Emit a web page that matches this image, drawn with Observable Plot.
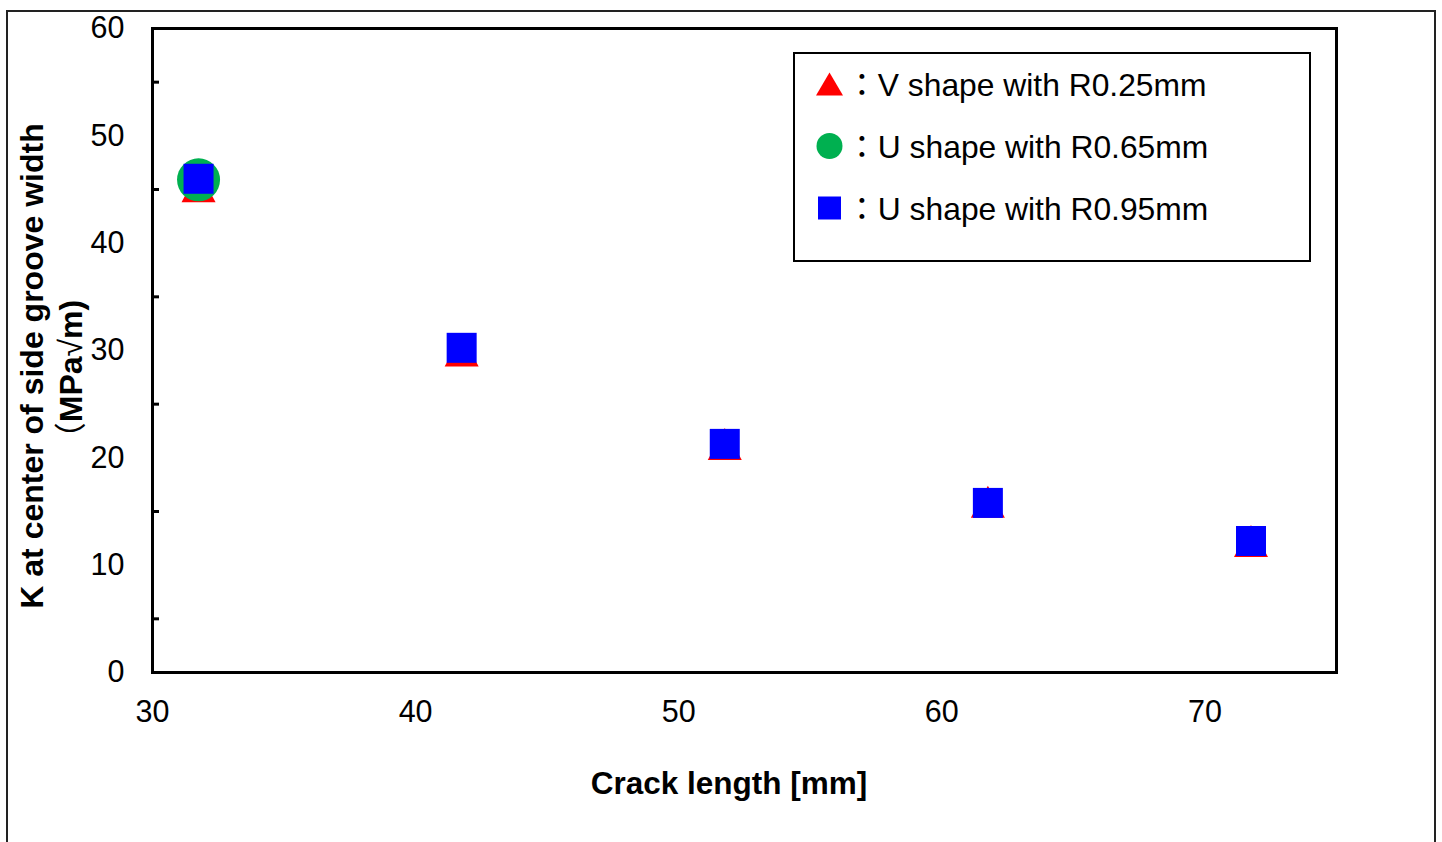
<!DOCTYPE html>
<html>
<head>
<meta charset="utf-8">
<script src="https://cdn.jsdelivr.net/npm/d3@7"></script>
<script src="https://cdn.jsdelivr.net/npm/@observablehq/plot@0.6"></script>
<style>
  html, body { margin: 0; padding: 0; background: #fff; overflow: hidden; }
  #wrap { position: relative; width: 1442px; height: 842px; }
  #sheet { position: absolute; left: 6px; top: 10px; width: 1426px; height: 900px; border: 2px solid #222; box-sizing: content-box; }
  #chart { position: absolute; left: 0; top: 0; }
</style>
</head>
<body>
<div id="wrap">
  <div id="sheet"></div>
  <div id="chart"></div>
</div>
<script>
// Crack length of each analysed specimen [mm]
const crackLength = [31.75, 41.75, 51.75, 61.75, 71.75];
// Stress intensity factor K at the centre of the side groove width [MPa√m]
const vShapeR025 = [45.3, 30.0, 21.3, 15.9, 12.25];
const uShapeR065Length = [31.75];
const uShapeR065 = [45.9];
const uShapeR095 = [46.0, 30.25, 21.3, 15.8, 12.25];

const seriesNames = ["V shape with R0.25mm", "U shape with R0.65mm", "U shape with R0.95mm"];
const seriesColors = ["#FF0000", "#00B050", "#0000FF"];

const xTicks = [30, 40, 50, 60, 70];
const yTicks = [0, 10, 20, 30, 40, 50, 60];
const yMinorTicks = [5, 15, 25, 35, 45, 55];

const xTitle = "Crack length [mm]";
const yTitle = "K at center of side groove width";

const FONT = "'Liberation Sans', Arial, Helvetica, sans-serif";
const CJK = "'Noto Sans CJK JP', 'Noto Sans CJK SC', sans-serif";

// Upward triangle whose bounding box is centred on the point
function boxTriangle(aspect) {
  return {
    draw(context, size) {
      const r = Math.sqrt(size / Math.PI);
      const hw = r, hh = r * aspect;
      context.moveTo(0, -hh);
      context.lineTo(hw, hh);
      context.lineTo(-hw, hh);
      context.closePath();
    }
  };
}
const triangle = boxTriangle(16 / 17);

const width = 1442, height = 842;
const margin = {top: 28, right: 106, bottom: 170, left: 152};
const innerWidth = width - margin.left - margin.right;

const chart = Plot.plot({
  width, height,
  marginTop: margin.top, marginRight: margin.right,
  marginBottom: margin.bottom, marginLeft: margin.left,
  style: {fontFamily: FONT, background: "transparent", overflow: "visible", color: "black"},
  x: {domain: [30, 75]},
  y: {domain: [0, 60]},
  marks: [
    Plot.axisX({ticks: xTicks, tickSize: 0, tickPadding: 28, fontSize: 30.5, label: null}),
    Plot.axisY({ticks: yTicks, tickSize: 0, tickPadding: 28, fontSize: 30.5, label: null}),
    // inward minor ticks on the left axis
    Plot.tickY(yMinorTicks, {y: d => d, stroke: "black", strokeWidth: 3, insetRight: innerWidth - 7}),
    Plot.dot(vShapeR025, {x: (d, i) => crackLength[i], y: d => d, symbol: triangle, r: 17, fill: seriesColors[0], stroke: "none"}),
    Plot.dot(uShapeR065, {x: (d, i) => uShapeR065Length[i], y: d => d, symbol: "circle", r: 21.5, fill: seriesColors[1], stroke: "none"}),
    Plot.dot(uShapeR095, {x: (d, i) => crackLength[i], y: d => d, symbol: "square", r: 16.93, fill: seriesColors[2], stroke: "none"}),
    Plot.frame({stroke: "black", strokeWidth: 3})
  ]
});
document.getElementById("chart").appendChild(chart);

const svg = d3.select(chart);

// Axis titles
svg.append("text")
  .attr("x", 729).attr("y", 794)
  .attr("text-anchor", "middle")
  .attr("font-family", FONT).attr("font-size", 31.5).attr("font-weight", "bold")
  .attr("fill", "black")
  .text(xTitle);

svg.append("text")
  .attr("transform", "translate(43,366) rotate(-90)")
  .attr("text-anchor", "middle")
  .attr("font-family", FONT).attr("font-size", 32).attr("font-weight", "bold")
  .attr("fill", "black")
  .text(yTitle);

const unit = svg.append("text")
  .attr("transform", "translate(82,377) rotate(-90)")
  .attr("text-anchor", "middle")
  .attr("font-family", FONT).attr("font-size", 32)
  .attr("fill", "black");
unit.append("tspan").attr("font-family", CJK).text("（");
unit.append("tspan").attr("font-weight", "bold").text("MPa");
unit.append("tspan").text("√");
unit.append("tspan").attr("font-weight", "bold").text("m)");

// Legend box
const legend = svg.append("g");
legend.append("rect")
  .attr("x", 794).attr("y", 53).attr("width", 516).attr("height", 208)
  .attr("fill", "white").attr("stroke", "black").attr("stroke-width", 2);

const legendSymbols = [
  boxTriangle(23 / 27),
  d3.symbolCircle,
  d3.symbolSquare
];
const legendSizes = [Math.PI * 13.5 * 13.5, Math.PI * 13 * 13, 23 * 23];
seriesNames.forEach((name, i) => {
  const cy = 84 + i * 62;
  legend.append("path")
    .attr("transform", `translate(829.5,${cy})`)
    .attr("d", d3.symbol(legendSymbols[i], legendSizes[i])())
    .attr("fill", seriesColors[i]);
  legend.append("text")
    .attr("x", 846).attr("y", cy + 12)
    .attr("text-anchor", "start")
    .attr("font-family", FONT).attr("font-size", 31.8)
    .attr("fill", "black")
    .call(t => {
      t.append("tspan").attr("font-family", CJK).text("：");
      t.append("tspan").text(name);
    });
});
</script>
</body>
</html>
